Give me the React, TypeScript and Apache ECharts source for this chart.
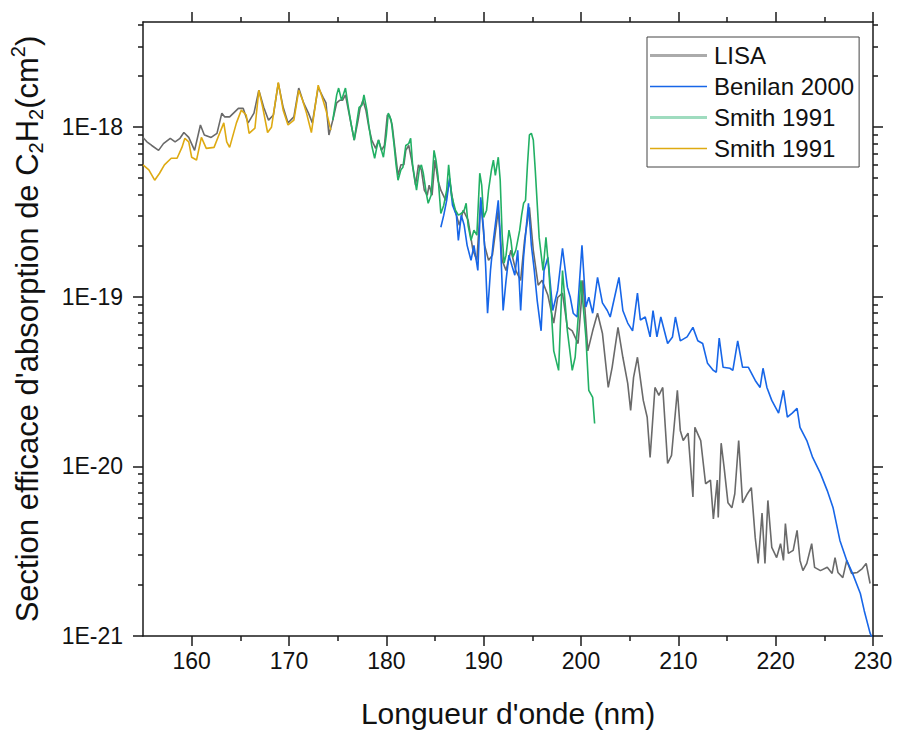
import React, { useEffect, useRef } from "react";
import * as echarts from "echarts";

// Cross-section values are given in units of 1e-20 cm²
const SIGMA_UNIT = 1e-20;

const lisaWavelength = [
  155.0, 155.4, 155.9, 156.6, 157.1, 157.8, 158.3, 158.8, 159.2, 159.7, 160.3, 160.9, 161.3, 162.0, 162.6,
  163.1, 163.4, 163.9, 164.8, 165.3, 165.8, 166.4, 166.9, 167.4, 167.9, 168.4, 168.9, 169.4, 169.9, 170.5,
  171.0, 171.5, 172.0, 172.4, 173.0, 173.5, 173.8, 174.1, 174.5, 174.9, 175.2, 175.5, 175.8, 176.1, 176.4,
  176.7, 177.1, 177.3, 177.6, 177.9, 178.2, 178.5, 178.9, 179.2, 179.5, 179.8, 180.1, 180.3, 180.6, 180.9,
  181.2, 181.5, 181.8, 182.0, 182.3, 182.6, 183.0, 183.3, 183.6, 183.9, 184.2, 184.4, 184.7, 185.0, 185.3,
  185.6, 186.1, 186.5, 186.9, 187.5, 187.9, 188.4, 188.9, 189.3, 189.7, 190.1, 190.5, 190.9, 191.5, 191.9,
  192.3, 192.8, 193.3, 193.8, 194.2, 194.7, 195.1, 195.6, 196.0, 196.6, 197.2, 197.6, 198.1, 198.6, 199.1,
  199.7, 200.2, 200.7, 201.2, 201.7, 202.2, 202.8, 203.2, 203.8, 204.3, 204.8, 205.1, 205.4, 205.8, 206.4,
  206.8, 207.1, 207.6, 208.0, 208.4, 208.9, 209.3, 209.9, 210.2, 210.5, 211.0, 211.5, 211.7, 212.3, 212.8,
  213.3, 213.6, 214.0, 214.1, 214.4, 214.7, 215.1, 215.5, 215.8, 216.2, 216.6, 217.1, 217.5, 217.9, 218.2,
  218.6, 218.9, 219.2, 219.6, 220.1, 220.5, 220.8, 221.0, 221.3, 221.8, 222.2, 222.5, 222.8, 223.2, 223.7,
  224.0, 224.6, 225.3, 225.8, 226.1, 226.4, 226.9, 227.3, 227.8, 228.4, 228.9, 229.3, 229.7,
];
const lisaSigma = [
  87, 82, 78, 73, 80, 86, 82, 86, 93, 87, 73, 103, 90, 87, 92,
  121, 115, 115, 129, 129, 106, 121, 165, 131, 110, 118, 182, 131, 106, 115,
  170, 139, 121, 106, 172, 150, 139, 90, 110, 139, 144, 144, 155, 126, 103,
  84, 110, 129, 144, 126, 100, 84, 75, 84, 73, 78, 118, 118, 103, 73,
  52, 60, 60, 73, 78, 64, 45.5, 60, 56, 42.5, 39.7, 45.5, 39.7, 64, 48.7,
  42.5, 37, 48.7, 34.7, 26.4, 32.4, 28.3, 18.8, 16.4, 37, 20.1, 16.4, 17.6, 32.4, 16.4,
  14.3, 18.8, 14.3, 12.5, 21.5, 33.7, 18.8, 11.7, 12.5, 10.2, 7.0, 9.9, 10.5, 6.6, 6.3,
  5.3, 12.5, 4.8, 6.3, 8.0, 6.1, 2.92, 3.84, 6.6, 4.4, 3.09, 2.14, 3.35, 4.4, 2.45,
  1.95, 1.13, 2.92, 2.62, 2.92, 1.04, 1.16, 2.81, 1.63, 1.42, 1.57, 0.66, 1.7, 1.42, 0.79,
  0.83, 0.49, 0.83, 0.5, 1.37, 0.99, 0.61, 0.57, 0.69, 1.42, 0.61, 0.69, 0.75, 0.38, 0.268,
  0.53, 0.268, 0.63, 0.333, 0.29, 0.35, 0.279, 0.46, 0.307, 0.32, 0.42, 0.279, 0.243, 0.268, 0.35,
  0.254, 0.243, 0.254, 0.234, 0.29, 0.237, 0.221, 0.279, 0.234, 0.237, 0.25, 0.268, 0.204,
];

const benilanWavelength = [
  185.6, 185.9, 186.2, 186.5, 186.8, 187.2, 187.4, 187.7, 188.0, 188.3, 188.7, 189.0, 189.4, 189.7, 190.0,
  190.2, 190.4, 190.7, 191.0, 191.5, 191.7, 192.0, 192.3, 192.6, 192.9, 193.2, 193.5, 193.8, 194.1, 194.3,
  194.6, 194.9, 195.2, 195.5, 195.9, 196.2, 196.6, 197.1, 197.6, 198.1, 198.6, 198.9, 199.2, 199.6, 200.1,
  200.5, 200.8, 201.2, 201.7, 202.2, 202.7, 203.0, 203.9, 204.3, 204.8, 205.3, 205.8, 206.1, 206.6, 207.1,
  207.4, 207.8, 208.2, 208.9, 209.4, 209.7, 210.2, 210.9, 211.5, 212.0, 212.5, 213.0, 213.6, 213.9, 214.2,
  214.6, 215.3, 215.6, 216.1, 216.6, 217.2, 217.9, 218.4, 218.7, 219.1, 219.6, 220.3, 220.8, 221.2, 221.7,
  222.2, 222.5, 223.2, 223.8, 224.6, 225.3, 225.9, 226.6, 227.3, 227.9, 228.7, 229.1, 229.7, 230.0,
];
const benilanSigma = [
  25.7, 30.3, 37, 50, 34.7, 30.3, 21.5, 30.3, 26.4, 20.1, 16.4, 20.1, 14.3, 38.6, 24.7,
  15.3, 8.0, 14.3, 21.5, 37, 23.1, 8.3, 12.5, 17.6, 15.3, 13.4, 18.8, 8.3, 17.1, 23.1,
  35.6, 20.1, 14.3, 9.5, 6.3, 14.3, 17.1, 8.3, 10.9, 19.3, 11.4, 9.93, 8.0, 7.6, 20.1,
  8.7, 9.93, 8.0, 13.0, 9.2, 8.3, 7.6, 13.0, 8.3, 7.0, 6.3, 10.5, 7.3, 7.6, 5.8,
  8.3, 5.8, 7.6, 5.3, 5.8, 7.6, 5.5, 5.8, 6.6, 5.5, 5.3, 4.05, 3.68, 3.59, 5.7,
  3.84, 3.79, 3.68, 5.5, 3.84, 3.84, 3.21, 2.92, 3.79, 2.92, 2.45, 2.06, 2.81, 1.95, 2.06,
  2.2, 1.7, 1.42, 1.13, 0.91, 0.72, 0.57, 0.366, 0.279, 0.234, 0.178, 0.141, 0.104, 0.095,
];

const smithAWavelength = [
  174.5, 174.9, 175.1, 175.4, 175.8, 176.1, 176.4, 176.7, 177.0, 177.2, 177.5, 177.7, 178.0, 178.2, 178.5,
  178.8, 179.0, 179.2, 179.5, 179.7, 180.0, 180.2, 180.5, 180.8, 181.0, 181.2, 181.5, 181.7, 182.0, 182.3,
  182.5, 182.7, 183.1, 183.4, 183.6, 183.8, 184.1, 184.3, 184.6, 184.9, 185.1, 185.3, 185.6, 185.9, 186.2,
  186.4, 186.7, 187.1, 187.4, 187.7, 188.0, 188.2, 188.4, 188.7, 189.0, 189.3, 189.6, 189.8, 190.0, 190.3,
  190.5, 190.8, 191.0, 191.2, 191.5, 191.7, 191.9, 192.1, 192.3, 192.6, 192.8, 193.0, 193.3, 193.5, 193.7,
  193.9, 194.1, 194.3, 194.5, 194.7, 194.9, 195.1, 195.3, 195.7, 196.1, 196.4, 196.7, 197.2, 197.7, 198.1,
  198.6, 199.1, 199.4, 200.0, 200.5, 200.8, 201.2, 201.4,
];
const smithASigma = [
  110, 155, 170, 144, 170, 131, 103, 84, 110, 131, 135, 155, 126, 103, 78,
  65.6, 75, 84, 73, 66.5, 90, 121, 110, 78, 60, 48.7, 56, 58, 78, 80,
  86, 60, 42.5, 57, 60, 53.5, 40.8, 35.6, 39.7, 73, 64, 52, 31, 34.7, 42.5,
  60, 39.7, 32.4, 30.3, 31, 32.4, 35.6, 26.4, 21.5, 24.7, 23.1, 53.5, 45.5, 29.4, 32.4,
  42.5, 56, 64, 52, 66.5, 48.7, 23.1, 15.8, 17.6, 24.7, 21.5, 17.1, 18.8, 21.5, 24.7,
  30.3, 35.6, 37, 60, 90, 92, 84, 56, 22.4, 14.3, 22.4, 14.3, 4.8, 3.68, 14.3,
  6.3, 3.68, 4.4, 12.5, 5.8, 2.81, 2.55, 1.79,
];

const smithBWavelength = [
  155.0, 155.6, 156.2, 156.7, 157.2, 157.9, 158.5, 159.0, 159.3, 159.7, 160.0, 160.5, 161.0, 161.5, 162.3,
  162.8, 163.3, 163.6, 163.9, 164.6, 165.1, 165.6, 165.9, 166.5, 166.9, 167.3, 167.8, 168.2, 168.9, 169.4,
  169.9, 170.5, 171.0, 171.4, 171.8, 172.3, 173.0, 173.5, 173.8, 174.3,
];
const smithBSigma = [
  60, 56, 48.7, 53.5, 60, 65.6, 65.6, 76, 86, 82, 66.5, 64, 87, 75, 76,
  90, 106, 82, 76, 106, 126, 118, 92, 98.6, 165, 131, 93, 100, 184, 126,
  103, 110, 165, 144, 121, 93, 177, 144, 126, 96,
];

const seriesNames = ["LISA", "Benilan 2000", "Smith 1991 (a)", "Smith 1991 (b)"];
const seriesColors = ["#6a6a6a", "#1766e8", "#22b064", "#deaa12"];
const legendColors = ["#ababab", "#1766e8", "#9fdcbf", "#deaa12"];
const legendThick = [3, 1.5, 3, 1.5];

const xMajorTicks = [160, 170, 180, 190, 200, 210, 220, 230];
const xMinorTicks = [165, 175, 185, 195, 205, 215, 225];
const yMajorTicks = [1e-21, 1e-20, 1e-19, 1e-18];
const yMinorTicks = [
  2e-21, 3e-21, 4e-21, 5e-21, 6e-21, 7e-21, 8e-21, 9e-21,
  2e-20, 3e-20, 4e-20, 5e-20, 6e-20, 7e-20, 8e-20, 9e-20,
  2e-19, 3e-19, 4e-19, 5e-19, 6e-19, 7e-19, 8e-19, 9e-19,
  2e-18, 3e-18, 4e-18,
];

const X_MIN = 155;
const X_MAX = 230;
const Y_MIN = 1e-21;
const Y_MAX = 4.17e-18;

const FONT = "'Liberation Sans', Arial, Helvetica, sans-serif";
const AXIS_COLOR = "#1a1a1a";
const LEGEND_W = 57;

function toPairs(wl: number[], sig: number[]) {
  return wl.map((w, i) => [w, sig[i] * SIGMA_UNIT]);
}

function xAxisDef(position: string, ticks: number[], len: number, main: boolean) {
  return {
    type: "value",
    position,
    min: X_MIN,
    max: X_MAX,
    axisLine: { show: main, onZero: false, lineStyle: { color: AXIS_COLOR, width: 1.5 } },
    axisTick: { show: true, inside: false, length: len, customValues: ticks, lineStyle: { color: AXIS_COLOR, width: 1.5 } },
    axisLabel:
      main && position === "bottom"
        ? { show: true, customValues: xMajorTicks, fontSize: 23, fontFamily: FONT, color: "#111", margin: 13 }
        : { show: false },
    splitLine: { show: false },
    name: main && position === "bottom" ? "Longueur d'onde (nm)" : "",
    nameLocation: "middle",
    nameGap: 62,
    nameTextStyle: { fontSize: 30, fontFamily: FONT, color: "#111" },
  };
}

function yAxisDef(position: string, ticks: number[], len: number, main: boolean, labels: boolean) {
  return {
    type: "log",
    logBase: 10,
    position,
    min: Y_MIN,
    max: Y_MAX,
    axisLine: { show: main, onZero: false, lineStyle: { color: AXIS_COLOR, width: 1.5 } },
    axisTick: { show: true, inside: false, length: len, customValues: ticks, lineStyle: { color: AXIS_COLOR, width: 1.5 } },
    axisLabel: labels
      ? {
          show: true,
          customValues: yMajorTicks,
          fontSize: 23,
          fontFamily: FONT,
          color: "#111",
          margin: 20,
          formatter: (v: number) => "1E" + Math.round(Math.log10(v)),
        }
      : { show: false },
    splitLine: { show: false },
    minorTick: { show: false },
    name: labels ? "Section efficace d'absorption de C{sub|2}H{sub|2}(cm{sup|2})" : "",
    nameLocation: "middle",
    nameGap: 97,
    nameTextStyle: {
      fontSize: 31,
      fontFamily: FONT,
      color: "#111",
      lineHeight: 38,
      rich: {
        sub: { fontSize: 20, fontFamily: FONT, color: "#111", verticalAlign: "bottom", lineHeight: 38 },
        sup: { fontSize: 20, fontFamily: FONT, color: "#111", verticalAlign: "top", lineHeight: 38 },
      },
    },
  };
}

export default function App() {
  const ref = useRef<HTMLDivElement>(null);

  useEffect(() => {
    document.body.style.margin = "0";
    if (!ref.current) return;
    const chart = echarts.init(ref.current, undefined, { renderer: "svg" });

    const seriesData = [
      toPairs(lisaWavelength, lisaSigma),
      toPairs(benilanWavelength, benilanSigma),
      toPairs(smithAWavelength, smithASigma),
      toPairs(smithBWavelength, smithBSigma),
    ];

    chart.setOption({
      animation: false,
      backgroundColor: "#ffffff",
      grid: { left: 141, right: 24, top: 22, bottom: 98, containLabel: false },
      legend: {
        orient: "vertical",
        left: 647,
        top: 37,
        padding: [6, 5, 6, 3],
        itemWidth: LEGEND_W,
        itemHeight: 14,
        itemGap: 6,
        borderColor: "#444",
        borderWidth: 1,
        backgroundColor: "#fff",
        symbolKeepAspect: true,
        textStyle: { fontSize: 24, lineHeight: 25, fontFamily: FONT, color: "#111", padding: [0, 0, 0, 2] },
        formatter: (name: string) => name.replace(/ \(.\)$/, ""),
        data: seriesNames.map((name, i) => ({
          name,
          icon: `path://M0,0H${LEGEND_W}V${legendThick[i]}H0Z`,
          itemStyle: { color: legendColors[i] },
        })),
      },
      xAxis: [
        xAxisDef("bottom", xMajorTicks, 10, true),
        xAxisDef("top", xMajorTicks, 10, true),
        xAxisDef("top", xMinorTicks, 5, false),
        xAxisDef("bottom", xMinorTicks, 5, false),
      ],
      yAxis: [
        yAxisDef("left", yMajorTicks, 10, true, true),
        yAxisDef("right", yMajorTicks, 10, true, false),
        yAxisDef("right", yMinorTicks, 5, false, false),
        yAxisDef("left", yMinorTicks, 5, false, false),
      ],
      series: seriesNames.map((name, i) => ({
        name,
        type: "line",
        xAxisIndex: 0,
        yAxisIndex: 0,
        data: seriesData[i],
        symbol: "none",
        showSymbol: false,
        lineStyle: { width: 1.6, color: seriesColors[i] },
        itemStyle: { color: seriesColors[i] },
        emphasis: { disabled: true },
        clip: true,
        z: 2 + i,
      })),
    });

    return () => chart.dispose();
  }, []);

  return <div ref={ref} style={{ width: 897, height: 734 }} />;
}
